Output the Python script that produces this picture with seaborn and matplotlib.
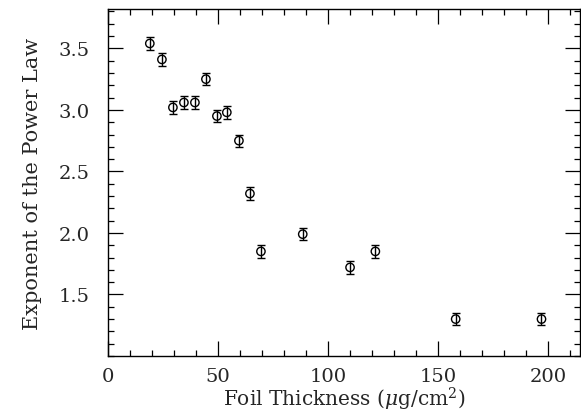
import matplotlib
matplotlib.use("Agg")
import matplotlib.pyplot as plt
import seaborn as sns
import pandas as pd
from matplotlib.ticker import MultipleLocator

# data
thickness = [19, 24.5, 29.5, 34.5, 39.5, 44.5, 49.5, 54, 59.5, 64.5, 69.5, 88.5, 110, 121.5, 158, 197]
exponent = [3.54, 3.41, 3.02, 3.06, 3.06, 3.25, 2.95, 2.98, 2.75, 2.32, 1.85, 1.99, 1.72, 1.85, 1.30, 1.30]
error = [0.05] * 16

df = pd.DataFrame({"thickness": thickness, "exponent": exponent, "error": error})

sns.set_style("ticks")
plt.rcParams["font.family"] = ["DejaVu Serif"]
plt.rcParams["mathtext.fontset"] = "dejavuserif"

fig = plt.figure(figsize=(5.81, 4.14), dpi=100)
ax = fig.add_axes([108 / 581, 1 - 357 / 414, (580 - 108) / 581, (357 - 10) / 414])

ax.errorbar(df["thickness"], df["exponent"], yerr=df["error"], fmt="none",
            ecolor="black", elinewidth=1.0, capsize=3, capthick=1.0)
sns.scatterplot(data=df, x="thickness", y="exponent", ax=ax, marker="o", s=36,
                facecolor="none", edgecolor="black", linewidth=1.0, zorder=3)

ax.set_xlim(0, 214.5)
ax.set_ylim(1.0, 3.82)
ax.xaxis.set_major_locator(MultipleLocator(50))
ax.xaxis.set_minor_locator(MultipleLocator(10))
ax.yaxis.set_major_locator(MultipleLocator(0.5))
ax.yaxis.set_minor_locator(MultipleLocator(0.1))
ax.tick_params(which="both", direction="in", top=True, right=True, color="black",
               labelsize=14, width=0.9)
ax.tick_params(which="major", length=11)
ax.tick_params(axis="y", which="major", pad=13)
ax.tick_params(axis="x", which="major", pad=8)
ax.tick_params(which="minor", length=4.5)
ax.set_xticks([0, 50, 100, 150, 200])
ax.set_xticklabels(["0", "50", "100", "150", "200"])
ax.set_yticks([1.5, 2.0, 2.5, 3.0, 3.5])
ax.set_yticklabels(["1.5", "2.0", "2.5", "3.0", "3.5"])
for s in ax.spines.values():
    s.set_linewidth(1.0)
    s.set_color("black")

ax.set_xlabel(r"Foil Thickness ($\mu$g/cm$^2$)", fontsize=14.5, labelpad=0)
ax.set_ylabel("Exponent of the Power Law", fontsize=15, labelpad=12)

fig.savefig("out.png", dpi=100)
